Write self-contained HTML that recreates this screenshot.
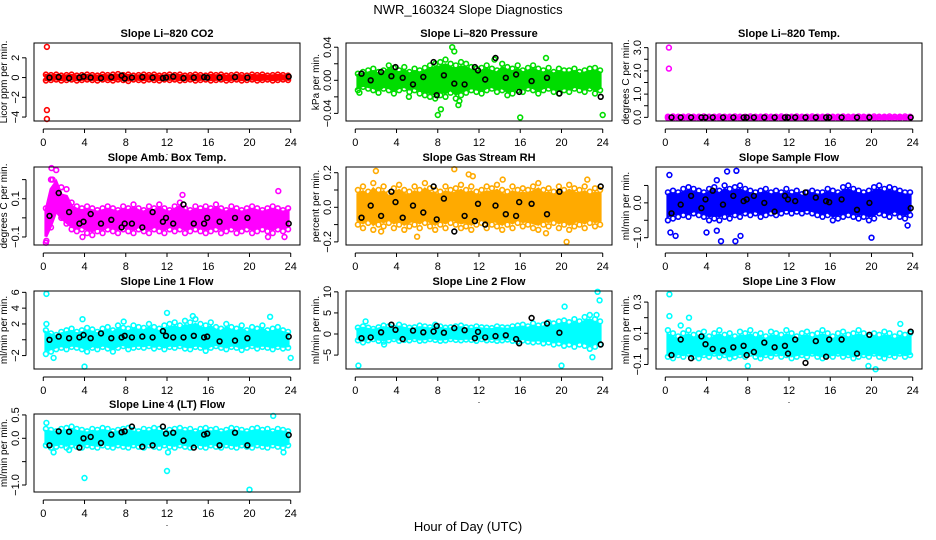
<!DOCTYPE html>
<html><head><meta charset="utf-8"><style>
body{margin:0;background:#fff;}
svg{display:block;font-family:"Liberation Sans",Arial,sans-serif;}
</style></head><body>
<svg id="chart" width="936" height="540" viewBox="0 0 936 540">
<rect width="936" height="540" fill="#fff"/>
<text x="468" y="14" text-anchor="middle" font-size="13">NWR_160324  Slope Diagnostics</text>
<text x="468" y="531" text-anchor="middle" font-size="13">Hour of Day (UTC)</text>
</svg>
<script>
const hours=[0.25,0.75,1.25,1.75,2.25,2.75,3.25,3.75,4.25,4.75,5.25,5.75,6.25,6.75,7.25,7.75,8.25,8.75,9.25,9.75,10.25,10.75,11.25,11.75,12.25,12.75,13.25,13.75,14.25,14.75,15.25,15.75,16.25,16.75,17.25,17.75,18.25,18.75,19.25,19.75,20.25,20.75,21.25,21.75,22.25,22.75,23.25,23.75];
const blackHours=[0.6,1.5,2.5,3.5,3.9,4.6,5.6,6.6,7.6,7.9,8.6,9.6,10.6,11.6,11.9,12.6,13.6,14.6,15.6,15.9,17.1,18.6,19.8,23.8];
const xTicks=[0,4,8,12,16,20,24];

const co2Hi=[0.3,0.25,0.3,0.2,0.25,0.3,0.2,0.25,0.3,0.25,0.2,0.3,0.25,0.3,0.35,0.25,0.3,0.2,0.25,0.3,0.25,0.3,0.2,0.25,0.3,0.25,0.3,0.2,0.25,0.3,0.25,0.2,0.3,0.25,0.3,0.2,0.25,0.3,0.25,0.2,0.3,0.25,0.3,0.2,0.25,0.3,0.25,0.2];
const co2Lo=[-0.3,-0.25,-0.2,-0.3,-0.25,-0.2,-0.3,-0.25,-0.2,-0.25,-0.3,-0.2,-0.25,-0.3,-0.2,-0.25,-0.35,-0.2,-0.25,-0.3,-0.2,-0.25,-0.3,-0.2,-0.25,-0.2,-0.3,-0.25,-0.2,-0.3,-0.25,-0.2,-0.3,-0.25,-0.2,-0.3,-0.25,-0.2,-0.3,-0.25,-0.2,-0.3,-0.25,-0.2,-0.3,-0.25,-0.2,-0.25];
const co2Black=[0,0.05,-0.05,0,0.1,0,-0.05,0.05,0.2,-0.1,0,0.05,0,-0.05,0,0.1,-0.05,0,0.05,0,0,0.05,0,0.1];
const co2OutX=[0.35,0.35,0.35];
const co2OutY=[3.1,-3.3,-4.2];

const presHi=[0.008,0.01,0.012,0.014,0.01,0.012,0.018,0.015,0.012,0.016,0.01,0.014,0.012,0.015,0.018,0.02,0.022,0.025,0.02,0.018,0.022,0.02,0.016,0.014,0.015,0.018,0.014,0.012,0.02,0.016,0.014,0.018,0.012,0.015,0.018,0.014,0.012,0.015,0.01,0.014,0.012,0.012,0.014,0.01,0.012,0.014,0.015,0.012];
const presLo=[-0.012,-0.008,-0.01,-0.012,-0.015,-0.01,-0.012,-0.016,-0.012,-0.01,-0.014,-0.012,-0.016,-0.018,-0.02,-0.022,-0.018,-0.02,-0.015,-0.022,-0.018,-0.015,-0.012,-0.014,-0.016,-0.012,-0.01,-0.014,-0.012,-0.018,-0.016,-0.012,-0.014,-0.01,-0.012,-0.016,-0.012,-0.01,-0.014,-0.016,-0.012,-0.014,-0.01,-0.012,-0.014,-0.01,-0.016,-0.012];
const presBlack=[0.008,0,0.01,0.005,0.016,0.003,-0.005,0.004,0.022,-0.018,0.006,-0.004,-0.005,0.016,0.012,0.001,0.027,0.003,0.007,-0.014,-0.001,0.003,-0.016,-0.02];
const presOutX=[8,8.3,9.4,9.6,10,10.1,16,24,13.5,18.5,0.4,5.2];
const presOutY=[-0.042,-0.035,0.04,0.035,-0.03,-0.025,-0.045,-0.042,0.025,0.027,-0.015,-0.02];

const tempHi=[0.03,0.04,0.03,0.03,0.04,0.03,0.03,0.04,0.03,0.03,0.04,0.03,0.03,0.04,0.03,0.03,0.04,0.03,0.03,0.04,0.03,0.03,0.04,0.03,0.03,0.04,0.03,0.03,0.04,0.03,0.03,0.04,0.03,0.03,0.04,0.03,0.03,0.04,0.03,0.03,0.04,0.03,0.03,0.04,0.03,0.03,0.04,0.03];
const tempLo=[-0.03,-0.03,-0.04,-0.03,-0.03,-0.04,-0.03,-0.03,-0.04,-0.03,-0.03,-0.04,-0.03,-0.03,-0.04,-0.03,-0.03,-0.04,-0.03,-0.03,-0.04,-0.03,-0.03,-0.04,-0.03,-0.03,-0.04,-0.03,-0.03,-0.04,-0.03,-0.03,-0.04,-0.03,-0.03,-0.04,-0.03,-0.03,-0.04,-0.03,-0.03,-0.04,-0.03,-0.03,-0.04,-0.03,-0.03,-0.04];
const tempBlack=[0,0,0,0,0,0,0,0,0,0,0,0,0,0,0,0,0,0,0,0,0,0,0,0];
const tempOutX=[0.35,0.35];
const tempOutY=[3.0,2.1];

const ambHi=[0.05,0.2,0.25,0.16,0.15,0.08,0.06,0.05,0.06,0.05,0.04,0.05,0.06,0.05,0.04,0.06,0.05,0.07,0.05,0.04,0.06,0.05,0.07,0.05,0.04,0.06,0.08,0.05,0.04,0.06,0.05,0.06,0.05,0.07,0.05,0.04,0.06,0.05,0.04,0.05,0.06,0.05,0.04,0.05,0.06,0.05,0.04,0.05];
const ambLo=[-0.13,-0.05,0.05,0.0,-0.03,-0.06,-0.07,-0.06,-0.08,-0.09,-0.07,-0.08,-0.06,-0.07,-0.08,-0.06,-0.07,-0.08,-0.06,-0.07,-0.08,-0.06,-0.07,-0.08,-0.06,-0.07,-0.06,-0.08,-0.07,-0.06,-0.07,-0.08,-0.07,-0.06,-0.08,-0.07,-0.06,-0.08,-0.07,-0.06,-0.08,-0.07,-0.06,-0.07,-0.08,-0.06,-0.07,-0.06];
const ambBlack=[0.01,0.13,0.03,-0.03,-0.02,0.02,-0.03,-0.01,-0.05,-0.03,-0.03,-0.05,0.03,-0.02,0,-0.03,0.07,-0.03,-0.03,0,-0.02,0,0,-0.03];
const ambOutX=[0.3,0.8,0.9,3.8,13.5,21.8,22.8,23.4];
const ambOutY=[-0.12,0.26,0.2,-0.1,0.12,-0.1,0.14,-0.1];

const rhHi=[0.1,0.12,0.09,0.14,0.1,0.12,0.08,0.11,0.13,0.1,0.09,0.12,0.1,0.14,0.11,0.1,0.09,0.12,0.1,0.11,0.13,0.1,0.12,0.09,0.1,0.12,0.11,0.13,0.1,0.09,0.12,0.1,0.11,0.1,0.12,0.14,0.1,0.11,0.09,0.12,0.1,0.13,0.11,0.1,0.12,0.09,0.11,0.1];
const rhLo=[-0.1,-0.12,-0.09,-0.13,-0.1,-0.11,-0.09,-0.12,-0.1,-0.13,-0.11,-0.1,-0.12,-0.09,-0.11,-0.13,-0.1,-0.12,-0.09,-0.1,-0.12,-0.11,-0.13,-0.1,-0.09,-0.12,-0.1,-0.11,-0.13,-0.1,-0.12,-0.09,-0.11,-0.1,-0.12,-0.13,-0.1,-0.11,-0.09,-0.12,-0.1,-0.13,-0.11,-0.1,-0.12,-0.09,-0.11,-0.1];
const rhBlack=[-0.06,0.01,-0.05,0.09,0.03,-0.06,0.01,-0.03,0.12,-0.07,0.05,-0.14,-0.05,-0.08,0.02,-0.1,0.01,-0.04,-0.05,0.03,0.02,-0.04,0.09,0.12];
const rhOutX=[2,9.6,11,11.4,6,20.5,18.5,2.5,14.3,22.5];
const rhOutY=[0.21,0.22,0.19,0.18,-0.17,-0.2,-0.15,-0.14,0.16,0.16];

const sampHi=[0.3,0.35,0.3,0.4,0.45,0.4,0.35,0.3,0.4,0.45,0.35,0.5,0.4,0.45,0.5,0.4,0.35,0.3,0.35,0.4,0.3,0.35,0.3,0.4,0.3,0.35,0.25,0.3,0.35,0.3,0.3,0.4,0.35,0.3,0.45,0.5,0.4,0.35,0.3,0.35,0.45,0.5,0.4,0.45,0.4,0.35,0.3,0.3];
const sampLo=[-0.5,-0.45,-0.4,-0.35,-0.4,-0.3,-0.35,-0.4,-0.5,-0.45,-0.5,-0.4,-0.45,-0.35,-0.4,-0.3,-0.35,-0.3,-0.4,-0.35,-0.3,-0.35,-0.3,-0.25,-0.3,-0.25,-0.3,-0.25,-0.3,-0.35,-0.4,-0.35,-0.5,-0.45,-0.4,-0.35,-0.4,-0.45,-0.4,-0.5,-0.45,-0.3,-0.35,-0.4,-0.3,-0.4,-0.45,-0.35];
const sampBlack=[-0.3,-0.05,0.2,-0.15,0.1,0.35,-0.05,0.2,0.05,0.1,0.2,0,-0.25,0.2,0.1,0.05,0.3,0.15,0.05,0.02,0.1,-0.2,0,-0.15];
const sampOutX=[0.4,0.5,1,4,5,5.4,6.8,5,6,6.9,20,23.5,7.3];
const sampOutY=[0.8,-0.85,-0.95,-0.85,-0.8,-1.1,-1.1,0.65,0.9,0.92,-1.0,-0.65,-0.95];

const l1Hi=[1.2,0.8,0.6,1.0,1.2,1.4,1.0,1.2,1.5,1.3,1.0,1.4,1.6,1.2,1.8,1.5,1.4,1.8,1.6,1.5,2.0,1.6,1.4,1.8,2.0,2.2,1.8,2.4,2.2,2.6,2.0,1.8,2.2,1.6,1.4,2.0,1.6,1.4,1.8,1.2,1.6,1.4,1.8,1.2,1.4,1.6,1.2,1.0];
const l1Lo=[-1.8,-1.5,-1.2,-1.0,-1.2,-0.9,-1.0,-1.2,-1.5,-1.0,-1.2,-0.9,-1.1,-1.5,-1.0,-0.8,-1.2,-1.0,-0.9,-1.0,-0.8,-1.1,-0.9,-1.2,-0.9,-1.0,-0.8,-1.1,-1.2,-0.9,-1.0,-1.4,-1.0,-0.8,-1.0,-1.2,-0.9,-1.0,-1.3,-1.0,-0.8,-1.1,-0.9,-1.0,-1.2,-0.9,-1.1,-1.0];
const l1Black=[0,0.4,0.2,0.3,0.6,0.2,0.8,0.2,0.3,0.5,0.3,0.4,0.3,1.1,0.5,0.3,0.3,0.5,0.3,0.4,-0.2,-0.1,0.2,0.4];
const l1OutX=[0.3,0.3,4,24,1,12,22,14.5,3.8,7.8];
const l1OutY=[5.8,2.0,-3.4,-2.3,-2.3,3.4,2.9,3.0,2.6,2.3];

const l2Hi=[1.5,1.8,1.5,1.2,1.6,2.0,1.8,1.5,2.2,1.8,1.5,1.6,2.0,1.8,1.6,2.2,1.8,1.5,1.6,1.8,2.0,1.6,1.5,1.8,1.6,1.5,1.4,1.8,1.6,1.5,1.8,2.0,2.2,1.8,2.5,2.0,2.2,2.8,2.5,3.0,3.2,2.8,3.5,3.0,4.0,4.5,3.5,3.0];
const l2Lo=[-1.5,-2.0,-1.5,-1.2,-1.6,-1.8,-1.5,-1.2,-1.6,-1.4,-1.5,-1.2,-1.6,-1.5,-1.2,-1.4,-1.6,-1.5,-1.2,-1.4,-1.5,-1.3,-1.4,-1.6,-1.2,-1.5,-1.4,-1.6,-1.5,-1.3,-1.6,-1.8,-1.5,-1.8,-2.0,-1.8,-2.2,-2.0,-2.5,-2.2,-2.8,-2.5,-3.0,-2.5,-2.8,-3.5,-3.0,-2.5];
const l2Black=[-1,-0.8,0.4,2.2,1.0,-1.2,0.8,0.4,0.6,1.9,0.3,1.4,0.9,-1.0,0.5,-0.8,-0.5,-0.3,-1.2,-2.2,3.8,2.5,0.3,-2.5];
const l2OutX=[0.3,20,23.5,23.7,20.3,23,1,2.8,23.4];
const l2OutY=[-7.5,-7.5,10,8,6.5,-5.5,3,-2.5,4.5];

const l3Hi=[0.12,0.1,0.08,0.1,0.12,0.09,0.1,0.11,0.08,0.1,0.12,0.09,0.1,0.08,0.11,0.1,0.12,0.09,0.1,0.08,0.11,0.1,0.09,0.12,0.1,0.08,0.1,0.11,0.09,0.1,0.12,0.1,0.08,0.1,0.11,0.09,0.1,0.12,0.1,0.08,0.1,0.09,0.11,0.1,0.08,0.1,0.09,0.1];
const l3Lo=[-0.05,-0.06,-0.04,-0.05,-0.03,-0.05,-0.06,-0.04,-0.05,-0.03,-0.05,-0.04,-0.06,-0.05,-0.04,-0.05,-0.03,-0.05,-0.06,-0.04,-0.05,-0.03,-0.05,-0.04,-0.06,-0.05,-0.04,-0.05,-0.03,-0.05,-0.06,-0.04,-0.05,-0.03,-0.05,-0.04,-0.06,-0.05,-0.04,-0.05,-0.03,-0.05,-0.06,-0.04,-0.05,-0.03,-0.05,-0.04];
const l3Black=[-0.04,0.06,-0.06,0.08,0.03,0.0,-0.01,0.01,0.02,-0.04,-0.02,0.04,0.01,0.02,-0.03,0.06,-0.09,0.05,-0.05,0.06,0.06,-0.03,0.09,0.11];
const l3OutX=[0.4,0.4,2.3,19.7,20.4,8,1.5,22.8];
const l3OutY=[0.35,0.21,0.2,-0.11,-0.13,-0.11,0.15,0.16];

const l4Hi=[0.2,0.18,0.15,0.2,0.22,0.25,0.2,0.18,0.15,0.2,0.18,0.22,0.2,0.15,0.18,0.2,0.22,0.18,0.15,0.2,0.18,0.22,0.2,0.15,0.18,0.2,0.22,0.18,0.2,0.15,0.2,0.22,0.18,0.2,0.15,0.18,0.22,0.2,0.18,0.15,0.2,0.22,0.18,0.2,0.15,0.2,0.18,0.15];
const l4Lo=[-0.15,-0.2,-0.18,-0.15,-0.2,-0.15,-0.18,-0.2,-0.15,-0.18,-0.2,-0.15,-0.18,-0.2,-0.15,-0.18,-0.2,-0.15,-0.18,-0.2,-0.15,-0.18,-0.2,-0.15,-0.18,-0.2,-0.15,-0.18,-0.2,-0.15,-0.18,-0.2,-0.15,-0.18,-0.2,-0.15,-0.18,-0.2,-0.15,-0.18,-0.2,-0.15,-0.18,-0.2,-0.15,-0.18,-0.2,-0.15];
const l4Black=[-0.15,0.15,0.14,-0.2,0,0.03,-0.1,0.08,0.13,0.15,0.25,-0.18,-0.15,0.25,0.1,0.12,-0.05,-0.2,0.08,0.1,-0.15,0.12,-0.15,0.07];
const l4OutX=[4,12,20,22.3,0.3,1,12.1,23.3,2.5];
const l4OutY=[-0.85,-0.7,-1.1,0.48,0.33,-0.3,-0.3,-0.3,-0.25];

const svg=document.getElementById('chart');
const NS='http://www.w3.org/2000/svg';
function mk(tag,attrs,parent){const e=document.createElementNS(NS,tag);for(const k in attrs)e.setAttribute(k,attrs[k]);(parent||svg).appendChild(e);return e;}

const colX=[34,346,656];
const rowY=[43,167,291,414];
const BW=266;const BH=78;

function drawPanel(key,title,ylab,col,row,ymin,ymax,yTicks,yLabels,color,hi,lo,blk,ox,oy){
  const g=mk('g',{});
  
  
  const L=colX[col],T=rowY[row];
  const xs=v=>L+(v+0.9)/25.8*BW;
  const ys=v=>T+BH-(v-ymin)/(ymax-ymin)*BH;
  const tt=mk('text',{x:L+BW/2,y:T-6,'text-anchor':'middle','font-size':11,'font-weight':'bold'},g);
  tt.textContent=title;
  
  
  // band
  let d='';
  hours.forEach((h,i)=>{d+=(i?'L':'M')+xs(h).toFixed(1)+','+ys(hi[i]*0.75).toFixed(1);});
  for(let i=hours.length-1;i>=0;i--){d+='L'+xs(hours[i]).toFixed(1)+','+ys(lo[i]*0.75).toFixed(1);}
  const band=mk('path',{d:d+'Z',fill:color,stroke:color,'stroke-width':3},g);
  
  
  const pts=(xa,ya,c,nm)=>{xa.forEach((x,i)=>{const p=mk('circle',{cx:xs(x).toFixed(1),cy:ys(ya[i]).toFixed(1),r:2.4,fill:'none',stroke:c,'stroke-width':1.6},g);
    
    });};
  pts(hours,hi,color,key+'-point');
  pts(hours,lo,color,key+'-point');
  pts(ox,oy,color,key+'-outlier');
  pts(blackHours,blk,'#000',key+'-black-point');
  const box=mk('rect',{x:L,y:T,width:BW,height:BH,fill:'none',stroke:'#000','stroke-width':1},g);
  
  
  // x axis
  mk('line',{x1:xs(0),x2:xs(24),y1:T+BH+8,y2:T+BH+8,stroke:'#000'},g);
  xTicks.forEach(v=>{mk('line',{x1:xs(v),x2:xs(v),y1:T+BH+8,y2:T+BH+12,stroke:'#000'},g);
    const t=mk('text',{x:xs(v),y:T+BH+25,'text-anchor':'middle','font-size':11},g);t.textContent=v;
    
    });
  mk('text',{x:L+BW/2,y:T+BH+34,'text-anchor':'middle','font-size':9},g).textContent='.';
  // y axis
  const yx=L-8;
  mk('line',{x1:yx,x2:yx,y1:ys(yTicks[0]),y2:ys(yTicks[yTicks.length-1]),stroke:'#000'},g);
  yTicks.forEach(v=>{mk('line',{x1:yx-4,x2:yx,y1:ys(v),y2:ys(v),stroke:'#000'},g);});
  yLabels.forEach(v=>{const y=ys(v);const t=mk('text',{x:yx-7,y:y,'text-anchor':'middle','font-size':11,transform:'rotate(-90 '+(yx-7)+' '+y+')'},g);
    t.textContent=(v<0?'\u2212':'')+Math.abs(v).toFixed(key==='co2'||key==='line1'||key==='line2'?0:(key==='pressure'?2:1));
    
    });
  const cy=T+BH/2;
  const yl=mk('text',{x:L-27,y:cy,'text-anchor':'middle','font-size':10,transform:'rotate(-90 '+(L-27)+' '+cy+')'},g);
  yl.textContent=ylab;
  
  
}

drawPanel('co2','Slope Li\u2013820 CO2','Licor ppm per min.',0,0,-4.4,3.5,[-4,-2,0,2],[-4,-2,0,2],'#ff0000',co2Hi,co2Lo,co2Black,co2OutX,co2OutY);
drawPanel('pressure','Slope Li\u2013820 Pressure','kPa per min.',1,0,-0.0492,0.0451,[-0.04,-0.02,0,0.02,0.04],[-0.04,0,0.04],'#00dd00',presHi,presLo,presBlack,presOutX,presOutY);
drawPanel('li820-temp','Slope Li\u2013820 Temp.','degrees C per min.',2,0,-0.157,3.2,[0,0.5,1,1.5,2,2.5,3],[0,1,2,3],'#ff00ff',tempHi,tempLo,tempBlack,tempOutX,tempOutY);
drawPanel('amb-box-temp','Slope Amb. Box Temp.','degrees C per min.',0,1,-0.142,0.266,[-0.1,0,0.1,0.2],[-0.1,0.1],'#ff00ff',ambHi,ambLo,ambBlack,ambOutX,ambOutY);
drawPanel('gas-stream-rh','Slope Gas Stream RH','percent per min.',1,1,-0.218,0.233,[-0.2,-0.1,0,0.1,0.2],[-0.2,0,0.2],'#ffaa00',rhHi,rhLo,rhBlack,rhOutX,rhOutY);
drawPanel('sample-flow','Slope Sample Flow','ml/min per min.',2,1,-1.21,1.03,[-1,-0.5,0,0.5],[-1,0],'#0000ff',sampHi,sampLo,sampBlack,sampOutX,sampOutY);
drawPanel('line1','Slope Line 1 Flow','ml/min per min.',0,2,-3.7,6.17,[-2,0,2,4,6],[-2,2,4,6],'#00ffff',l1Hi,l1Lo,l1Black,l1OutX,l1OutY);
drawPanel('line2','Slope Line 2 Flow','ml/min per min.',1,2,-8.3,10.2,[-5,0,5,10],[-5,0,5,10],'#00ffff',l2Hi,l2Lo,l2Black,l2OutX,l2OutY);
drawPanel('line3','Slope Line 3 Flow','ml/min per min.',2,2,-0.129,0.371,[-0.1,0,0.1,0.2,0.3],[-0.1,0.1,0.3],'#00ffff',l3Hi,l3Lo,l3Black,l3OutX,l3OutY);
drawPanel('line4','Slope Line 4 (LT) Flow','ml/min per min.',0,3,-1.15,0.52,[-1,-0.5,0,0.5],[-1,0,0.5],'#00ffff',l4Hi,l4Lo,l4Black,l4OutX,l4OutY);
</script>
</body></html>
